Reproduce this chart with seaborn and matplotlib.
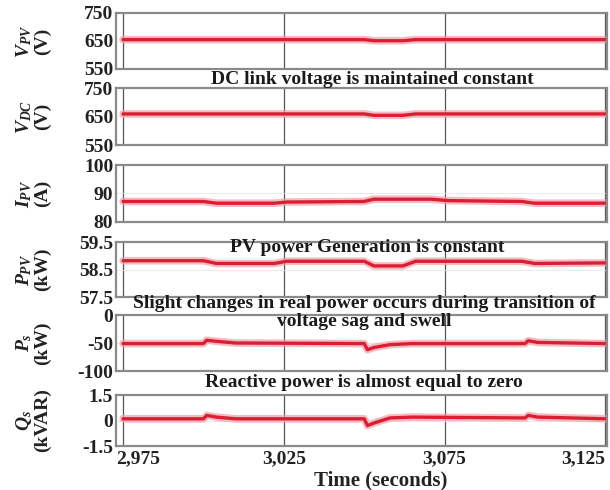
import matplotlib
matplotlib.use("Agg")
import matplotlib.pyplot as plt
from matplotlib.transforms import ScaledTranslation
import seaborn as sns
import pandas as pd

sns.set_theme(style="white")
plt.rcParams["font.family"] = ["Liberation Serif", "DejaVu Serif"]
plt.rcParams["font.weight"] = "bold"
plt.rcParams["mathtext.fontset"] = "custom"
plt.rcParams["mathtext.it"] = "Liberation Serif:italic:bold"
plt.rcParams["mathtext.rm"] = "Liberation Serif:bold"

# Time breakpoints (s) and measured signals
t_vpv = [2.975, 3.050, 3.053, 3.062, 3.066, 3.125]
v_pv = [655, 655, 651, 651, 655, 655]

t_vdc = [2.975, 3.050, 3.053, 3.062, 3.066, 3.125]
v_dc = [659, 659, 654, 654, 659, 659]

t_ipv = [2.975, 3.000, 3.004, 3.022, 3.026, 3.050, 3.053, 3.071, 3.076, 3.099, 3.103, 3.125]
i_pv = [87.2, 87.2, 86.6, 86.6, 87.0, 87.2, 88.0, 88.0, 87.5, 87.2, 86.6, 86.6]

t_ppv = [2.975, 3.000, 3.004, 3.022, 3.026, 3.050, 3.053, 3.062, 3.066, 3.099, 3.103, 3.125]
p_pv = [58.82, 58.82, 58.72, 58.72, 58.80, 58.80, 58.63, 58.63, 58.80, 58.80, 58.72, 58.74]

t_ps = [2.975, 3.000, 3.001, 3.004, 3.010, 3.050, 3.051, 3.053, 3.058, 3.065, 3.100, 3.101, 3.104, 3.125]
p_s = [-51, -51, -45, -47, -50, -51, -62, -58, -53, -51, -51, -46, -49, -51]

t_qs = [2.975, 3.000, 3.001, 3.004, 3.010, 3.050, 3.051, 3.053, 3.058, 3.065, 3.100, 3.101, 3.104, 3.125]
q_s = [0.1, 0.1, 0.3, 0.2, 0.1, 0.1, -0.3, -0.15, 0.15, 0.2, 0.15, 0.3, 0.2, 0.1]

series = [
    (t_vpv, v_pv, "$V_{PV}$\n(V)", [550, 650, 750], ["550", "650", "750"]),
    (t_vdc, v_dc, "$V_{DC}$\n(V)", [550, 650, 750], ["550", "650", "750"]),
    (t_ipv, i_pv, "$I_{PV}$\n(A)", [80, 90, 100], ["80", "90", "100"]),
    (t_ppv, p_pv, "$P_{PV}$\n(kW)", [57.5, 58.5, 59.5], ["57.5", "58.5", "59.5"]),
    (t_ps, p_s, "$P_s$\n(kW)", [-100, -50, 0], ["-100", "-50", "0"]),
    (t_qs, q_s, "$Q_s$\n(kVAR)", [-1.5, 0, 1.5], ["-1.5", "0", "1.5"]),
]

x_ticks = [2.975, 3.025, 3.075, 3.125]
x_labels = ["2,975", "3,025", "3,075", "3,125"]

H = 490.0
# panel top/bottom edges in pixels from the top of the figure
edges = [(13, 69), (88, 145), (165, 222), (242, 297), (315, 371), (395, 446)]

fig = plt.figure(figsize=(6.1, 4.9), dpi=100)
fs = 14
axes = []
for (t, v, lab, yt, ytl), (top, bot) in zip(series, edges):
    ax = fig.add_axes([116 / 610, 1 - bot / H, 491 / 610, (bot - top) / H])
    df = pd.DataFrame({"t": t, "v": v})
    sns.lineplot(data=df, x="t", y="v", ax=ax, color="#f2a0aa", lw=5.5, alpha=0.7)
    sns.lineplot(data=df, x="t", y="v", ax=ax, color="#dc1e32", lw=2.4)
    ax.set_xlim(2.9728, 3.1255)
    ax.set_ylim(yt[0], yt[-1])
    ax.set_yticks(yt)
    ax.set_yticklabels(ytl, fontsize=fs, fontweight="bold", color="#222222")
    ax.set_xticks(x_ticks)
    ax.set_xlabel("")
    ax.set_ylabel(lab, fontsize=fs, fontweight="bold", linespacing=1.0, color="#222222")
    ax.yaxis.set_label_coords(-0.132, 0.5)
    ax.xaxis.grid(True, color="#555555", lw=0.9)
    ax.yaxis.grid(True, color="#e6e6e6", lw=0.6)
    ax.tick_params(axis="both", length=0, pad=2)
    for s in ax.spines.values():
        s.set_color("#8a8a8a")
        s.set_linewidth(1.6)
    ax.set_xticklabels([])
    axes.append(ax)

last = axes[-1]
last.set_xticklabels(x_labels, fontsize=fs, fontweight="bold", color="#222222")
last.tick_params(axis="x", pad=3)
tl = last.get_xticklabels()
tl[0].set_horizontalalignment("left")
tl[0].set_transform(tl[0].get_transform()
                    + ScaledTranslation(-0.07, 0, fig.dpi_scale_trans))
tl[-1].set_horizontalalignment("right")
fig.text(381 / 610, 1 - 480 / H, "Time (seconds)", ha="center", va="center",
         fontsize=15, fontweight="bold", color="#222222")

def note(x, y, txt):
    fig.text(x / 610, 1 - y / H, txt, ha="center", va="center", fontsize=14,
             fontweight="bold", color="#1a1a1a")

note(372, 79, "DC link voltage is maintained constant")
note(367, 247, "PV power Generation is constant")
note(364, 303, "Slight changes in real power occurs during transition of")
note(364, 322, "voltage sag and swell")
note(364, 382, "Reactive power is almost equal to zero")

fig.savefig("out.png", dpi=100)
